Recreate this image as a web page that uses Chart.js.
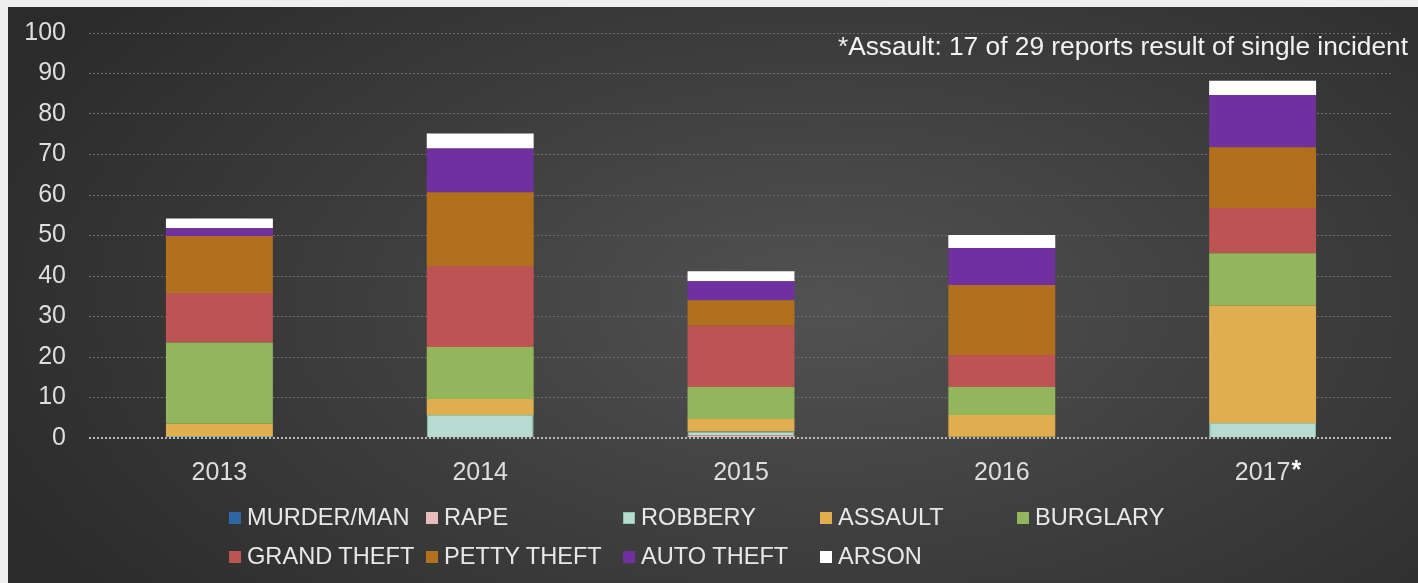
<!DOCTYPE html>
<html>
<head>
<meta charset="utf-8">
<script src="https://cdn.jsdelivr.net/npm/chart.js@4.4.1/dist/chart.umd.min.js"></script>
<style>
  body { margin: 0; background: #efefef; width: 1418px; height: 583px; overflow: hidden; position: relative; font-family: 'Liberation Sans', Arial, sans-serif; }
  #panel { position: absolute; left: 8px; top: 7px; width: 1410px; height: 576px;
    background: radial-gradient(ellipse 65% 85% at 58% 52%, #525252 0%, #3e3e3e 50%, #2b2b2b 100%); }
  #grafico { position: absolute; left: 0; top: 0; }
  #leyenda { position: absolute; left: 221px; top: 491px; display: grid; grid-template-columns: repeat(5, 197px); grid-auto-rows: 39px; }
  .item { display: flex; align-items: center; font-size: 23.6px; color: #e8e8e8; white-space: nowrap; }
  .caja { width: 12px; height: 12px; margin-right: 6px; box-sizing: border-box; flex: none; }
</style>
</head>
<body>
<div id="panel">
  <canvas id="grafico" width="1410" height="576"></canvas>
  <div id="leyenda"></div>
</div>
<script>
// Datos del gráfico
const anios = ['2013', '2014', '2015', '2016', '2017*'];
const ticksY = [0, 10, 20, 30, 40, 50, 60, 70, 80, 90, 100];
const nota = '*Assault: 17 of 29 reports result of single incident';

const homicidio = [0, 0, 0, 0, 0];
const violacion = [0, 0, 0.6, 0, 0];
const robo = [0.5, 5.7, 1.0, 0.3, 3.7];
const asalto = [3.0, 3.9, 3.1, 5.4, 29.0];
const allanamiento = [20.1, 12.9, 7.9, 6.9, 12.9];
const hurtoMayor = [12.2, 20.0, 15.1, 7.9, 11.2];
const hurtoMenor = [14.1, 18.2, 6.3, 17.3, 15.0];
const roboAuto = [1.9, 10.8, 4.7, 9.1, 12.9];
const incendio = [2.4, 3.7, 2.5, 3.2, 3.5];

function serie(label, data, color, borde) {
    return {
        label: label,
        data: data,
        backgroundColor: color,
        borderColor: borde || color,
        borderWidth: borde ? 1 : 0,
        categoryPercentage: 1,
        barPercentage: 0.41
    };
}

const series = [
    serie('MURDER/MAN', homicidio, '#2e67a3'),
    serie('RAPE', violacion, '#e8bcbc'),
    serie('ROBBERY', robo, '#b6dbd0', '#8cc3ae'),
    serie('ASSAULT', asalto, '#e0ad4f'),
    serie('BURGLARY', allanamiento, '#93b65c'),
    serie('GRAND THEFT', hurtoMayor, '#bd5454'),
    serie('PETTY THEFT', hurtoMenor, '#b2701e'),
    serie('AUTO THEFT', roboAuto, '#7030a0'),
    serie('ARSON', incendio, '#ffffff')
];

const fuente = "'Liberation Sans', Arial, sans-serif";
const padX = 12;

// nota arriba a la derecha y asterisco en negrita junto a la etiqueta
const notaPlugin = {
    id: 'nota',
    afterDraw(chart) {
        const ctx = chart.ctx;
        ctx.save();
        ctx.font = '26.3px ' + fuente;
        ctx.fillStyle = '#f2f2f2';
        ctx.textAlign = 'right';
        ctx.textBaseline = 'alphabetic';
        ctx.fillText(nota, chart.width - 10, 48);

        const x = chart.scales.x;
        ctx.font = '25px ' + fuente;
        anios.forEach((a, i) => {
            if (!a.endsWith('*')) return;
            const base = a.slice(0, -1);
            const px = x.getPixelForTick(i) + ctx.measureText(base).width / 2 + 1;
            const py = x.top + padX + 15;
            ctx.font = 'bold 25px ' + fuente;
            ctx.textAlign = 'left';
            ctx.textBaseline = 'middle';
            ctx.fillStyle = '#ffffff';
            ctx.fillText('*', px, py + 6);
        });
        ctx.restore();
    }
};

new Chart(document.getElementById('grafico').getContext('2d'), {
    type: 'bar',
    data: { labels: anios, datasets: series },
    options: {
        responsive: false,
        animation: false,
        layout: { padding: { top: 26, right: 25, bottom: 85, left: 0 } },
        plugins: {
            legend: { display: false },
            tooltip: { enabled: false }
        },
        scales: {
            x: {
                stacked: true,
                grid: { display: false },
                border: { display: false },
                ticks: {
                    color: '#dedede',
                    font: { family: fuente, size: 25 },
                    padding: padX,
                    callback: (v, i) => anios[i].replace(/\*$/, '')
                },
                afterFit: (s) => { s.height = 60; }
            },
            y: {
                stacked: true,
                min: 0,
                max: 100,
                afterBuildTicks: (s) => { s.ticks = ticksY.map(v => ({ value: v })); },
                grid: {
                    drawTicks: false,
                    color: (c) => c.tick && c.tick.value === 0 ? '#b8b8b8' : '#6e6e6e',
                    lineWidth: (c) => c.tick && c.tick.value === 0 ? 2 : 1
                },
                border: { display: false, dash: [2, 2] },
                ticks: { color: '#dedede', font: { family: fuente, size: 25 }, padding: 23 },
                afterFit: (s) => { s.width = 81; s.paddingTop = 0; s.paddingBottom = 0; }
            }
        }
    },
    plugins: [notaPlugin]
});

// leyenda en cuadrícula
const leyenda = document.getElementById('leyenda');
series.forEach(s => {
    const item = document.createElement('div');
    item.className = 'item';
    const caja = document.createElement('span');
    caja.className = 'caja';
    caja.style.background = s.backgroundColor;
    if (s.borderWidth) caja.style.border = '1px solid ' + s.borderColor;
    item.appendChild(caja);
    item.appendChild(document.createTextNode(s.label));
    leyenda.appendChild(item);
});
</script>
</body>
</html>
